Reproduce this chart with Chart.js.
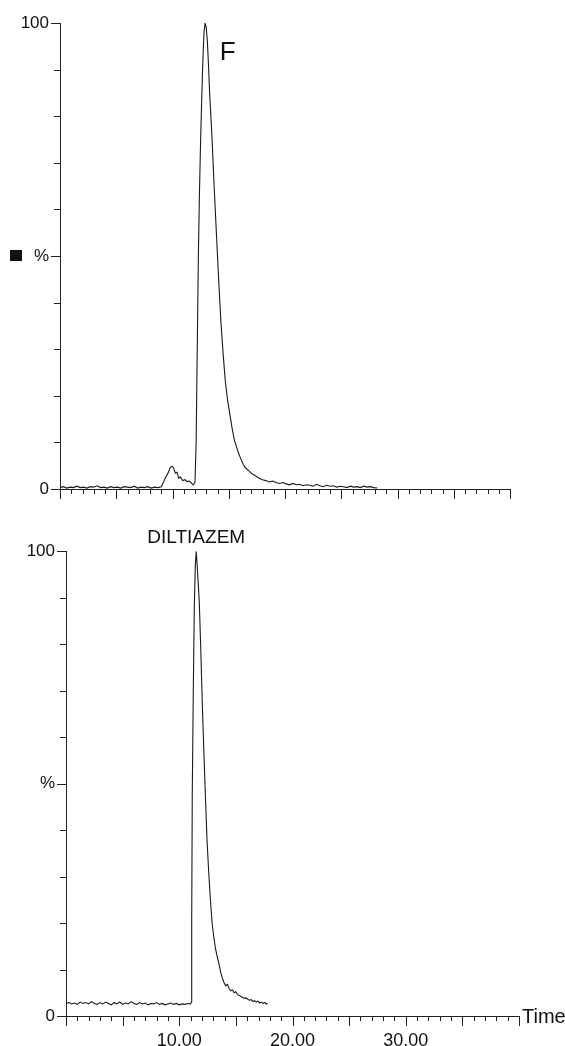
<!DOCTYPE html>
<html>
<head>
<meta charset="utf-8">
<script src="https://cdn.jsdelivr.net/npm/chart.js@4.4.0/dist/chart.umd.min.js"></script>
<style>
body{margin:0;background:#fff;width:565px;height:1046px;overflow:hidden}
.box{position:absolute;left:0;width:565px}
</style>
</head>
<body>
<div class="box" style="top:0;height:530px"><canvas id="top"></canvas></div>
<div class="box" style="top:530px;height:516px"><canvas id="bot"></canvas></div>
<script>
// upper trace (F), time in min, response in %
const topTime = [0.0,0.3,0.6,0.9,1.2,1.5,1.8,2.1,2.4,2.7,3.0,3.3,3.6,3.9,4.2,4.5,4.8,5.1,5.4,5.7,6.0,6.3,6.6,6.9,7.2,7.5,7.8,8.1,8.4,8.7,9.0,
  9.2,9.4,9.6,9.8,9.95,10.1,10.25,10.4,10.55,10.7,10.9,11.1,11.3,11.5,11.7,11.85,12.0,
  12.1,12.2,12.3,12.4,12.5,12.6,12.7,12.8,12.9,13.0,13.1,13.2,13.3,13.5,13.7,13.9,14.1,14.3,14.5,14.7,14.9,15.1,15.3,15.5,15.7,15.9,16.1,16.3,16.5,16.8,
  17.1,17.4,17.7,18.0,18.3,18.6,18.9,19.2,19.5,19.8,20.1,20.4,20.7,21.0,21.3,21.6,21.9,22.2,22.5,22.8,23.1,23.4,23.7,24.0,24.3,24.6,24.9,25.2,25.5,25.8,26.1,26.4,26.7,27.0,27.3,27.6,27.9,28.2]
const topPct = [0.3,0.5,0.2,0.4,0.3,0.6,0.3,0.4,0.2,0.5,0.4,0.7,0.3,0.4,0.2,0.5,0.3,0.4,0.2,0.5,0.4,0.3,0.6,0.2,0.4,0.3,0.5,0.2,0.4,0.3,0.5,
  1.5,2.6,3.4,4.6,4.9,4.5,3.4,3.6,2.3,2.6,1.8,2.0,1.6,1.7,1.2,0.9,1.5,
  10,30,50,64,75,84,92,98,100,99,96,91,85,76,65,55,45,36,29,23,19,16,13,10.5,9,7.5,6.3,5.2,4.5,3.9,
  3.2,2.8,2.3,2.0,1.8,1.5,1.7,1.4,1.2,1.4,1.1,0.9,1.2,0.9,1.0,0.7,0.9,0.8,0.6,1.0,0.7,0.5,0.8,0.6,0.7,0.4,0.6,0.5,0.3,0.6,0.4,0.5,0.3,0.6,0.4,0.5,0.3,0.2]

// lower trace (DILTIAZEM)
const botTime = [0.0,0.25,0.5,0.75,1.0,1.25,1.5,1.75,2.0,2.25,2.5,2.75,3.0,3.25,3.5,3.75,4.0,4.25,4.5,4.75,5.0,5.25,5.5,5.75,6.0,6.25,6.5,6.75,7.0,7.25,7.5,7.75,8.0,8.25,8.5,8.75,9.0,9.25,9.5,9.75,10.0,10.25,10.5,10.75,11.0,
  11.07,11.1,11.15,11.25,11.33,11.42,11.5,11.58,11.68,11.77,11.9,12.05,12.2,12.3,12.45,12.6,12.75,12.9,13.05,13.2,13.35,13.5,13.65,13.8,13.95,14.1,14.25,14.4,14.55,14.7,14.85,15.0,
  15.15,15.3,15.45,15.6,15.75,15.9,16.05,16.2,16.35,16.5,16.65,16.8,16.95,17.1,17.25,17.4,17.55,17.7,17.8]
const botPct = [2.7,2.9,2.6,2.8,2.5,3.0,2.7,2.9,2.6,3.1,2.7,2.5,2.9,2.6,3.0,2.7,2.4,2.9,2.6,3.0,2.5,2.8,2.6,3.1,2.7,2.5,2.9,2.6,2.8,2.4,2.7,2.6,2.9,2.5,2.7,2.4,2.6,2.8,2.5,2.7,2.4,2.6,2.5,2.7,2.6,
  3,20,48,72,88,97,100,97,93,89,79,66,55,48,38,31,25,20,17,14.5,12.8,11.3,9.5,8.2,7.2,6.5,6.8,5.9,5.4,5.6,5.0,5.2,
  4.6,4.4,4.2,4.0,3.8,3.9,3.6,3.4,3.5,3.1,3.3,3.0,3.2,2.8,3.0,2.7,2.9,2.6,2.8]

const xLabels = [10,20,30]
const yLabels = {100:'100',50:'%',0:'0'}

const FONT = "'Liberation Sans', Arial, sans-serif"

const marks = {
  id:'marks',
  afterDraw(chart, args, opts){
    const ctx = chart.ctx, xs = chart.scales.x, ys = chart.scales.y
    ctx.save()
    ctx.strokeStyle = '#222'
    ctx.lineWidth = 1
    ctx.beginPath()
    xs.ticks.forEach(t=>{
      const px = Math.round(xs.getPixelForValue(t.value)) + 0.5
      const len = t.value % 5 === 0 ? 10 : 5
      ctx.moveTo(px, xs.top)
      ctx.lineTo(px, xs.top + len)
    })
    ys.ticks.forEach(t=>{
      const py = Math.round(ys.getPixelForValue(t.value)) + 0.5
      const len = t.value % 50 === 0 ? 9 : 6
      ctx.moveTo(ys.right, py)
      ctx.lineTo(ys.right - len, py)
    })
    ctx.stroke()
    ctx.fillStyle = '#111'
    // black marker in front of the % label
    if (opts.square) {
      const py = ys.getPixelForValue(50)
      ctx.fillRect(ys.right - 50, py - 6, 12, 11)
    }
    opts.notes.forEach(n=>{
      ctx.font = n.size + 'px ' + FONT
      ctx.textAlign = 'center'
      ctx.textBaseline = 'middle'
      ctx.fillText(n.text, xs.getPixelForValue(n.x), ys.getPixelForValue(n.y))
    })
    if (opts.time) {
      ctx.font = '20px ' + FONT
      ctx.textAlign = 'left'
      ctx.fillText('Time', xs.right + 3, xs.top + 1)
    }
    ctx.restore()
  }
}

function makeChart(id, times, pct, cfg){
  return new Chart(document.getElementById(id), {
    type:'line',
    data:{ datasets:[{ data: times.map((t,i)=>({x:t, y:pct[i]})), borderColor:'#1a1a1a', borderWidth:1.1, pointRadius:0, tension:0 }] },
    options:{
      responsive:true, maintainAspectRatio:false, animation:false,
      layout:{ padding:{ top:cfg.top, right:cfg.right, left:0, bottom:0 } },
      plugins:{ legend:{display:false}, tooltip:{enabled:false}, marks:{ notes:cfg.notes, time:cfg.time, square:cfg.square } },
      scales:{
        x:{ type:'linear', min:0, max:40,
          grid:{ display:true, drawOnChartArea:false, drawTicks:false },
          border:{ color:'#222', width:1 },
          ticks:{ stepSize:1, autoSkip:false, maxRotation:0, padding:14, color:'#111', font:{family:FONT, size:18},
            callback:v=> cfg.xText && xLabels.includes(v) ? v.toFixed(2) : '' },
          afterFit:s=>{ s.height = cfg.xh } },
        y:{ min:0, max:100,
          grid:{ display:true, drawOnChartArea:false, drawTicks:false },
          border:{ color:'#222', width:1 },
          ticks:{ stepSize:10, autoSkip:false, padding:11, color:'#111', font:{family:FONT, size:17},
            callback:v=> yLabels[v] || '' },
          afterFit:s=>{ s.width = cfg.yw } }
      }
    },
    plugins:[marks]
  })
}

makeChart('top', topTime, topPct, { top:23, right:55, xh:41, yw:60, xText:false, time:false, square:true,
  notes:[{text:'F', x:14.9, y:93.5, size:26}] })
makeChart('bot', botTime, botPct, { top:19, right:46, xh:30, yw:66, xText:true, time:true, square:false,
  notes:[{text:'DILTIAZEM', x:11.5, y:102.8, size:19}] })
</script>
</body>
</html>
